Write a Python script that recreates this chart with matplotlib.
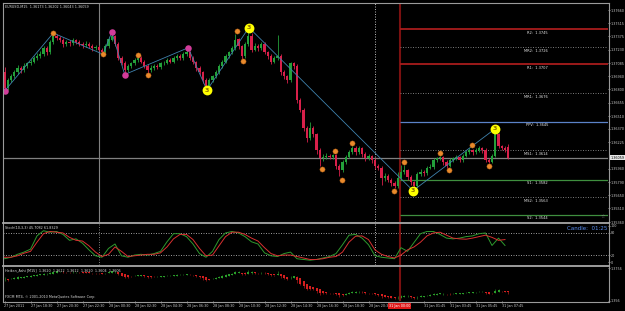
import matplotlib
matplotlib.use("Agg")
import matplotlib.pyplot as plt
from matplotlib.lines import Line2D
import numpy as np

# ---------------- DATA ----------------
symbol_title = "EURUSD,M15  1.36173 1.36202 1.36043 1.36059"

opens = [1.3699,1.3681,1.3690,1.3694,1.3699,1.3703,1.3701,1.3705,1.3708,1.3710,
         1.3714,1.3716,1.3718,1.3725,1.3720,1.3731,1.3738,1.3736,1.3734,1.3729,
         1.3731,1.3730,1.3734,1.3731,1.3729,1.3728,1.3729,1.3727,1.3725,1.3726,
         1.3723,1.3720,1.3727,1.3734,1.3738,1.3729,1.3714,1.3709,1.3701,1.3705,
         1.3708,1.3712,1.3714,1.3710,1.3705,1.3701,1.3703,1.3705,1.3704,1.3708,
         1.3709,1.3712,1.3710,1.3714,1.3716,1.3714,1.3718,1.3720,1.3714,1.3710,
         1.3703,1.3699,1.3690,1.3684,1.3690,1.3694,1.3699,1.3705,1.3710,1.3716,
         1.3720,1.3725,1.3734,1.3727,1.3716,1.3729,1.3738,1.3723,1.3727,1.3725,
         1.3729,1.3720,1.3716,1.3710,1.3714,1.3716,1.3699,1.3694,1.3690,1.3708,
         1.3705,1.3668,1.3658,1.3638,1.3627,1.3638,1.3631,1.3614,1.3605,1.3607,
         1.3608,1.3607,1.3609,1.3597,1.3592,1.3601,1.3607,1.3612,1.3616,1.3612,
         1.3616,1.3610,1.3605,1.3608,1.3603,1.3597,1.3595,1.3584,1.3586,1.3582,
         1.3578,1.3575,1.3584,1.3590,1.3592,1.3585,1.3579,1.3575,1.3588,1.3590,
         1.3589,1.3595,1.3596,1.3603,1.3605,1.3607,1.3601,1.3597,1.3603,1.3605,
         1.3607,1.3603,1.3608,1.3612,1.3614,1.3612,1.3614,1.3616,1.3614,1.3603,
         1.3601,1.3608,1.3632,1.3618,1.3616,1.36173]
closes = [1.3681,1.3690,1.3694,1.3699,1.3703,1.3701,1.3705,1.3708,1.3710,1.3714,
          1.3716,1.3718,1.3725,1.3720,1.3731,1.3738,1.3736,1.3734,1.3729,1.3731,
          1.3730,1.3734,1.3731,1.3729,1.3728,1.3729,1.3727,1.3725,1.3726,1.3723,
          1.3720,1.3727,1.3734,1.3738,1.3729,1.3714,1.3709,1.3701,1.3705,1.3708,
          1.3712,1.3714,1.3710,1.3705,1.3701,1.3703,1.3705,1.3704,1.3708,1.3709,
          1.3712,1.3710,1.3714,1.3716,1.3714,1.3718,1.3720,1.3714,1.3710,1.3703,
          1.3699,1.3690,1.3684,1.3690,1.3694,1.3699,1.3705,1.3710,1.3716,1.3720,
          1.3725,1.3734,1.3727,1.3716,1.3729,1.3738,1.3723,1.3727,1.3725,1.3729,
          1.3720,1.3716,1.3710,1.3714,1.3716,1.3699,1.3694,1.3690,1.3708,1.3705,
          1.3668,1.3658,1.3638,1.3627,1.3638,1.3631,1.3614,1.3605,1.3607,1.3608,
          1.3607,1.3609,1.3597,1.3592,1.3601,1.3607,1.3612,1.3616,1.3612,1.3616,
          1.3610,1.3605,1.3608,1.3603,1.3597,1.3595,1.3584,1.3586,1.3582,1.3578,
          1.3575,1.3584,1.3590,1.3592,1.3585,1.3579,1.3575,1.3588,1.3590,1.3589,
          1.3595,1.3596,1.3603,1.3605,1.3607,1.3601,1.3597,1.3603,1.3605,1.3607,
          1.3603,1.3608,1.3612,1.3614,1.3612,1.3614,1.3616,1.3614,1.3603,1.3601,
          1.3608,1.3632,1.3618,1.3616,1.3614,1.36059]
highs = [1.3704,1.3692,1.3697,1.3701,1.3706,1.3705,1.3708,1.3710,1.3713,1.3716,
         1.3719,1.3721,1.3727,1.3727,1.3733,1.3741,1.3740,1.3738,1.3736,1.3734,
         1.3734,1.3736,1.3735,1.3733,1.3731,1.3732,1.3731,1.3729,1.3728,1.3728,
         1.3725,1.3729,1.3736,1.3741,1.3739,1.3731,1.3716,1.3711,1.3707,1.3710,
         1.3714,1.3717,1.3716,1.3712,1.3707,1.3706,1.3707,1.3707,1.3710,1.3711,
         1.3714,1.3714,1.3716,1.3718,1.3718,1.3720,1.3723,1.3721,1.3716,1.3711,
         1.3705,1.3700,1.3692,1.3692,1.3696,1.3701,1.3707,1.3712,1.3718,1.3722,
         1.3727,1.3740,1.3736,1.3728,1.3731,1.3743,1.3741,1.3730,1.3729,1.3731,
         1.3731,1.3722,1.3718,1.3716,1.3739,1.3718,1.3701,1.3696,1.3710,1.3710,
         1.3707,1.3670,1.3660,1.3640,1.3645,1.3640,1.3633,1.3616,1.3610,1.3611,
         1.3610,1.3610,1.3610,1.3599,1.3603,1.3609,1.3614,1.3618,1.3618,1.3618,
         1.3617,1.3612,1.3610,1.3609,1.3605,1.3599,1.3597,1.3589,1.3588,1.3584,
         1.3580,1.3590,1.3598,1.3598,1.3594,1.3587,1.3581,1.3590,1.3593,1.3592,
         1.3597,1.3599,1.3605,1.3607,1.3608,1.3608,1.3603,1.3605,1.3607,1.3609,
         1.3608,1.3610,1.3614,1.3616,1.3615,1.3616,1.3618,1.3617,1.3616,1.3605,
         1.3610,1.3634,1.3633,1.3620,1.3618,1.36202]
lows = [1.3679,1.3679,1.3688,1.3692,1.3697,1.3698,1.3699,1.3703,1.3706,1.3708,
        1.3712,1.3714,1.3716,1.3717,1.3718,1.3729,1.3733,1.3731,1.3726,1.3727,
        1.3727,1.3728,1.3729,1.3727,1.3725,1.3726,1.3725,1.3722,1.3723,1.3721,
        1.3718,1.3719,1.3725,1.3732,1.3727,1.3712,1.3706,1.3698,1.3699,1.3703,
        1.3706,1.3710,1.3708,1.3703,1.3698,1.3699,1.3701,1.3702,1.3702,1.3706,
        1.3707,1.3708,1.3708,1.3712,1.3712,1.3712,1.3716,1.3712,1.3707,1.3700,
        1.3696,1.3687,1.3681,1.3682,1.3688,1.3692,1.3697,1.3703,1.3708,1.3714,
        1.3718,1.3723,1.3724,1.3712,1.3714,1.3727,1.3720,1.3721,1.3722,1.3723,
        1.3718,1.3713,1.3707,1.3708,1.3712,1.3696,1.3691,1.3687,1.3688,1.3702,
        1.3665,1.3655,1.3635,1.3623,1.3625,1.3628,1.3610,1.3597,1.3602,1.3604,
        1.3604,1.3604,1.3594,1.3586,1.3590,1.3599,1.3605,1.3610,1.3609,1.3610,
        1.3607,1.3602,1.3603,1.3600,1.3594,1.3592,1.3576,1.3581,1.3579,1.3575,
        1.3573,1.3573,1.3582,1.3588,1.3582,1.3576,1.3573,1.3574,1.3586,1.3586,
        1.3587,1.3593,1.3594,1.3601,1.3603,1.3598,1.3595,1.3596,1.3601,1.3603,
        1.3601,1.3601,1.3606,1.3610,1.3609,1.3610,1.3612,1.3611,1.3601,1.3600,
        1.3600,1.3606,1.3616,1.3614,1.3612,1.36043]

price_ticks = [1.37660, 1.37515, 1.37375, 1.37230, 1.37085, 1.36940, 1.36800,
               1.36655, 1.36510, 1.36370, 1.36225, 1.35940, 1.35790, 1.35650,
               1.35510, 1.35360]

# zigzag swing points (bar, price)
zz_bars = [0, 15, 30.3, 33, 37, 56.5, 62.3, 75.2, 125.7, 150.9]
zz_prices = [1.3678, 1.3741, 1.3718, 1.3742, 1.3696, 1.3725, 1.3679, 1.3747, 1.3570, 1.3637]

pink_bars = [0, 33, 37, 56.5]
pink_prices = [1.3678, 1.3742, 1.3696, 1.3725]
yellow_bars = [62.3, 75.2, 125.7, 150.9]
yellow_prices = [1.3679, 1.3747, 1.3570, 1.3637]
orange_bars = [15, 30.3, 41, 44, 71.5, 73.4, 97.7, 101.7, 103.8, 106.9,
               119.8, 122.9, 134, 136.8, 143.8, 149.1]
orange_prices = [1.3741, 1.3718, 1.3717, 1.3696, 1.3743, 1.3711, 1.3594, 1.3613,
                 1.3582, 1.3622, 1.3570, 1.3601, 1.3611, 1.3592, 1.3620, 1.3597]

pivot_names = ["R2", "MR2", "R1", "MR1", "PPV", "MS1", "S1", "MS2", "S2"]
pivot_values = [1.3745, 1.3726, 1.3707, 1.3676, 1.3645, 1.3614, 1.3582, 1.3563, 1.3544]

stoch_bars = list(range(0, 156, 2))
stoch_main = [10,14,22,28,36,72,86,82,84,76, 60,64,52,34,18,14,38,50,18,14,
              20,22,20,24,30,56,78,78,70,50, 24,14,30,62,80,84,80,70,56,50,
              26,18,16,24,28,10,8,6,8,12, 16,24,48,74,76,66,48,18,14,12,
              10,40,30,54,78,84,84,76,66,64, 66,70,72,78,80,46,66,46]
stoch_signal = [14,14,18,25,30,55,78,84,82,80, 68,60,58,45,28,16,22,42,30,16,
                18,20,22,22,26,42,64,76,76,62, 38,18,20,45,70,82,82,76,66,58,
                40,24,18,20,20,16,12,8,8,10, 14,16,28,55,71,72,62,34,22,16,
                12,20,34,42,55,72,80,82,74,66, 64,63,66,70,74,68,60,62]
stoch_title = "Stoch(10,3,3) 45.7082 61.8329"
ha_title = "Heiken_Ashi [M15]  1.3620  1.3612  1.3612  1.3620  1.3604  1.3606"

time_bars = [0, 8, 16, 24, 32, 40, 48, 56, 64, 72, 80, 88, 96, 104, 112,
             129, 137, 145, 153]
time_labels = ["27 Jan 2011", "27 Jan 18:30", "27 Jan 20:30", "27 Jan 22:30",
               "28 Jan 00:30", "28 Jan 02:30", "28 Jan 04:30", "28 Jan 06:30",
               "28 Jan 08:30", "28 Jan 10:30", "28 Jan 12:30", "28 Jan 14:30",
               "28 Jan 16:30", "28 Jan 18:30", "28 Jan 20:30",
               "31 Jan 01:45", "31 Jan 03:45", "31 Jan 05:45", "31 Jan 07:45"]
red_time_label = "31 Jan 00:00"

# ---------------- STYLE ----------------
W, H = 625, 311
BG = "black"
GREEN = "#23a03a"
RED = "#d8204a"
TXT = "#c8c8c8"
FS = 2.45

fig = plt.figure(figsize=(W / 100, H / 100), dpi=100, facecolor=BG)


def add_ax(x0, y0, x1, y1):
    a = fig.add_axes([x0 / W, 1 - y1 / H, (x1 - x0) / W, (y1 - y0) / H])
    a.set_facecolor(BG)
    for s in a.spines.values():
        s.set_visible(False)
    return a


def bar_of(x):
    return (x - 4.5) / 3.25


XL = (bar_of(3), bar_of(608))
V_GRAY = bar_of(99.3)
V_DOT = bar_of(374.5)
V_RED = bar_of(399.5)

o, h, l, c = map(np.array, (opens, highs, lows, closes))
idx = np.arange(len(c))
up = c >= o
cols = np.where(up, GREEN, RED)

TICK_KW = dict(colors=TXT, labelsize=FS, length=1.2, width=0.5, pad=0.6)

# ---------------- MAIN PANEL ----------------
ax = add_ax(3, 3, 608, 222)
ax.set_xlim(*XL)
ax.set_ylim(1.35360, 1.37736)

ax.axvline(V_GRAY, color="#808080", lw=0.8, zorder=1)
ax.axvline(V_DOT, color="#d0d0d0", lw=0.6, ls=(0, (1.2, 1.8)), zorder=1)
ax.axvline(V_RED, color="#7a1010", lw=1.5, zorder=1)
ax.axhline(closes[-1], color="#808080", lw=0.9, zorder=1)

piv_style = {"R2": ("#a81c1c", "-", 1.3), "R1": ("#a81c1c", "-", 1.3),
             "PPV": ("#5b82c8", "-", 0.9), "S1": ("#3f8f3f", "-", 0.9),
             "S2": ("#3f8f3f", "-", 0.9)}
for name, val in zip(pivot_names, pivot_values):
    colr, ls, lw = piv_style.get(name, ("#8a8a8a", (0, (1.2, 1.8)), 0.6))
    ax.hlines(val, V_RED + 0.3, XL[1], colors=colr, linestyles=ls, lw=lw, zorder=1)
    ax.annotate(f"{name}:  {val:.4f}", xy=(bar_of(548), val), xytext=(0, -1.2),
                textcoords="offset points", ha="right", va="top",
                fontsize=FS + 0.2, color="#e6e6e6", zorder=3)

# candles
ax.vlines(idx, l, h, colors=cols, lw=0.6, zorder=2)
body_lo = np.minimum(o, c)
body_h = np.maximum(np.abs(c - o), 0.00006)
ax.bar(idx, body_h, bottom=body_lo, width=0.62, color=cols, linewidth=0, zorder=2)

# zigzag & markers
ax.plot(zz_bars, zz_prices, color="#3f82ad", lw=0.6, zorder=3)
ax.scatter(pink_bars, pink_prices, s=22, color="#d23c9a", zorder=4, linewidths=0)
ax.scatter(orange_bars, orange_prices, s=14, color="#e98a2c", edgecolors="#a85a14",
           linewidths=0.3, zorder=4)
ax.scatter(yellow_bars, yellow_prices, s=50, color="#ffff00", zorder=4, linewidths=0)
for xb, yp in zip(yellow_bars, yellow_prices):
    ax.text(xb, yp, "3", fontsize=4.5, color="#8a6a00", ha="center", va="center",
            fontweight="bold", zorder=5)

ax.set_xticks([])
ax.yaxis.tick_right()
ax.set_yticks(price_ticks)
ax.set_yticklabels([f"{t:.5f}" for t in price_ticks])
ax.tick_params(axis="y", **TICK_KW)
ax.annotate(f"{closes[-1]:.5f}", xy=(1, closes[-1]), xycoords=("axes fraction", "data"),
            xytext=(2.0, 0), textcoords="offset points", fontsize=FS, color="black",
            va="center", ha="left",
            bbox=dict(boxstyle="square,pad=0.2", fc="#e8e8e8", ec="none"))
ax.text(0.003, 0.992, symbol_title, transform=ax.transAxes, fontsize=FS,
        color="#d8d8d8", va="top", ha="left")

# ---------------- STOCH PANEL ----------------
sx = add_ax(3, 223, 608, 265)
sx.set_xlim(*XL)
sx.set_ylim(-7, 107)
for lev in (20, 80):
    sx.axhline(lev, color="#b0b0b0", lw=0.6, ls=(0, (1.2, 1.8)))
sx.axvline(V_GRAY, color="#909090", lw=0.6, ls=(0, (1.2, 1.8)))
sx.axvline(V_DOT, color="#d0d0d0", lw=0.6, ls=(0, (1.2, 1.8)))
sx.axvline(V_RED, color="#7a1010", lw=1.5)
sx.plot(stoch_bars, stoch_main, color="#2e9a2e", lw=0.7)
sx.plot(stoch_bars, stoch_signal, color="#d83030", lw=0.7)
sx.set_xticks([])
sx.yaxis.tick_right()
sx.set_yticks([100, 80, 20, 0])
sx.set_yticklabels(["100", "80", "20", "0"])
sx.tick_params(axis="y", **TICK_KW)
sx.text(0.003, 0.93, stoch_title, transform=sx.transAxes, fontsize=FS,
        color="#d8d8d8", va="top", ha="left")
sx.text(0.999, 0.93, "Candle:  01:25", transform=sx.transAxes, fontsize=4.0,
        color="#5a8ef0", va="top", ha="right")

# ---------------- HEIKEN ASHI PANEL ----------------
hx = add_ax(3, 266, 608, 301)
hx.set_xlim(*XL)
hx.set_ylim(1.3560, 1.3768)
ha_close = (o + h + l + c) / 4
ha_open = np.empty_like(ha_close)
ha_open[0] = (o[0] + c[0]) / 2
for i in range(1, len(c)):
    ha_open[i] = (ha_open[i - 1] + ha_close[i - 1]) / 2
ha_high = np.maximum.reduce([h, ha_open, ha_close])
ha_low = np.minimum.reduce([l, ha_open, ha_close])
ha_cols = np.where(ha_close >= ha_open, "#2aa02a", "#d82020")
hx.vlines(idx, ha_low, ha_high, colors=ha_cols, lw=0.4)
hx.vlines(idx, np.minimum(ha_open, ha_close), np.maximum(ha_open, ha_close) + 0.00003,
          colors=ha_cols, lw=1.4)
hx.axvline(V_RED, color="#7a1010", lw=1.5)
hx.yaxis.tick_right()
hx.set_yticks([1.3756, 1.3560])
hx.set_yticklabels(["1.3756", "1.356"])
hx.tick_params(axis="y", **TICK_KW)
hx.set_xticks(time_bars)
hx.set_xticklabels(time_labels, ha="left")
hx.tick_params(axis="x", colors=TXT, labelsize=FS, length=1.5, width=0.5, pad=1.0)
hx.text(0.003, 0.93, ha_title, transform=hx.transAxes, fontsize=FS,
        color="#d8d8d8", va="top", ha="left")
hx.text(0.003, 0.05, "FXCM MT4, \u00a9 2001-2010 MetaQuotes Software Corp.",
        transform=hx.transAxes, fontsize=FS, color="#d8d8d8", va="bottom", ha="left")
hx.annotate(red_time_label, xy=(V_RED, 0), xycoords=("data", "axes fraction"),
            xytext=(0, -2.3), textcoords="offset points", fontsize=FS, color="white",
            ha="center", va="top",
            bbox=dict(boxstyle="square,pad=0.25", fc="#e01818", ec="none"))

# ---------------- FRAME ----------------
def fline(x0, y0, x1, y1, col="#9a9a9a", lw=0.8):
    fig.add_artist(Line2D([x0 / W, x1 / W], [1 - y0 / H, 1 - y1 / H], color=col,
                          lw=lw, transform=fig.transFigure))

fline(2.5, 2.5, 608.5, 2.5)
fline(2.5, 2.5, 2.5, 301.5)
fline(608.5, 2.5, 608.5, 301.5)
fline(2.5, 222.5, 608.5, 222.5, "#a8a8a8", 1.3)
fline(2.5, 265.5, 608.5, 265.5, "#a8a8a8", 1.3)
fline(2.5, 301.5, 608.5, 301.5)
fig.text(603 / W, 1 - 216 / H, "\u2606", fontsize=3.5, color="#909090", ha="center", va="center")

fig.savefig("out.png", dpi=100, facecolor=BG)
